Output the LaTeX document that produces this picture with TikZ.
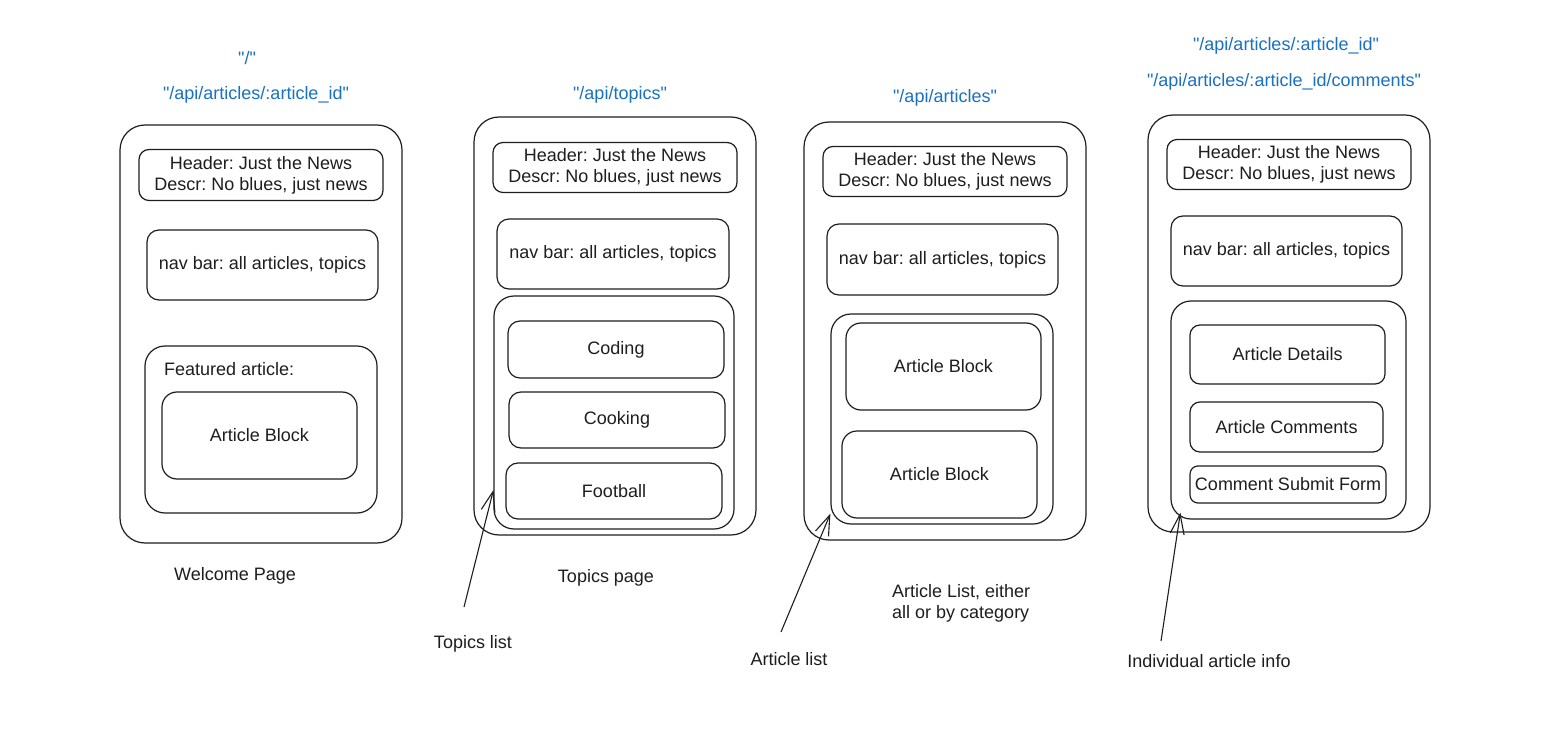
\documentclass[tikz,border=0pt]{standalone}
\usepackage{fontspec}
\setmainfont{Liberation Sans}
\newfontfamily\rtfont{Liberation Sans}
\usetikzlibrary{arrows.meta,calc}
\definecolor{ink}{HTML}{1E1E1E}
\definecolor{route}{HTML}{1971C2}
\frenchspacing
\tikzset{
  box/.style={draw=ink, line width=1.2pt, rounded corners=#1, inner sep=0pt, align=center,
    text=ink, font=\fontsize{18}{21}\selectfont\frenchspacing},
  box/.default=12pt,
  lbl/.style={text=ink, inner sep=0pt, font=\fontsize{18}{21}\selectfont\frenchspacing, align=left},
  rte/.style={text=route, inner sep=0pt, font=\rtfont\fontsize{18}{21}\selectfont},
  arr/.style={draw=ink, line width=1.1pt, -{Straight Barb[length=20pt,width=14pt,line width=1.1pt]}},
}
\begin{document}
\begin{tikzpicture}[x=1pt,y=-1pt]
\useasboundingbox[fill=white] (0,0) rectangle (1552,735);

% ---------- Column 1: Welcome page ----------
\node[rte] (r1a) at (247,58) {"/"};
\node[rte] (r1b) at (256,95) {"/api/articles/:article\_id"};
\node[box=25pt, minimum width=282pt, minimum height=418pt] (o1) at (261,334) {};
\node[box=10pt, minimum width=244pt, minimum height=51pt] (h1) at (261,175) {Header: Just the News\\Descr: No blues, just news};
\node[box=12pt, minimum width=231pt, minimum height=70pt] (n1) at (262.5,265) {\raisebox{-2pt}{nav bar: all articles, topics}};
\node[box=20pt, minimum width=232pt, minimum height=167pt] (f1) at (261,429.5) {};
\node[lbl, anchor=west] (f1t) at (164,369) {Featured article:};
\node[box=15pt, minimum width=195pt, minimum height=87pt] (a1) at (259.5,435.5) {\raisebox{-1pt}{Article Block}};
\node[lbl] (w1) at (235,576) {Welcome Page};

% ---------- Column 2: Topics page ----------
\node[rte] (r2) at (620,95) {"/api/topics"};
\node[box=25pt, minimum width=282pt, minimum height=418pt] (o2) at (615,326) {};
\node[box=10pt, minimum width=244pt, minimum height=50pt] (h2) at (615,167.5) {Header: Just the News\\Descr: No blues, just news};
\node[box=12pt, minimum width=232pt, minimum height=70pt] (n2) at (613,254) {\raisebox{-2pt}{nav bar: all articles, topics}};
\node[box=20pt, minimum width=240pt, minimum height=233pt] (t2) at (614,412.5) {};
\node[box=12pt, minimum width=216pt, minimum height=57pt] (c21) at (616,349.5) {\raisebox{-1pt}{Coding}};
\node[box=12pt, minimum width=216pt, minimum height=56pt] (c22) at (617,420) {\raisebox{-1pt}{Cooking}};
\node[box=12pt, minimum width=216pt, minimum height=56pt] (c23) at (614,491) {\raisebox{-1pt}{Football}};
\node[lbl] (w2) at (606,578) {Topics page};
\node[lbl] (tl) at (473,644) {Topics list};
\coordinate (tail2) at (464,607);
\coordinate (tip2) at ($(t2.west)+(0,77.5)$);
\draw[arr] (tail2) -- (tip2);

% ---------- Column 3: Article list ----------
\node[rte] (r3) at (945,98) {"/api/articles"};
\node[box=25pt, minimum width=282pt, minimum height=418pt] (o3) at (945,331) {};
\node[box=10pt, minimum width=244pt, minimum height=50pt] (h3) at (945,171.5) {Header: Just the News\\Descr: No blues, just news};
\node[box=12pt, minimum width=231pt, minimum height=71pt] (n3) at (942.5,259.5) {\raisebox{-2pt}{nav bar: all articles, topics}};
\node[box=20pt, minimum width=222pt, minimum height=210pt] (l3) at (942,419) {};
\node[box=15pt, minimum width=195pt, minimum height=87pt] (b31) at (943.5,366.5) {\raisebox{-1pt}{Article Block}};
\node[box=15pt, minimum width=195pt, minimum height=87pt] (b32) at (939.5,474.5) {\raisebox{-1pt}{Article Block}};
\node[lbl, anchor=west] (w3) at (892,603) {Article List, either\\all or by category};
\node[lbl] (al) at (789,659) {Article list};
\coordinate (tail3) at (781,632);
\coordinate (tip3) at ($(l3.south west)+(0,-11)$);
\draw[arr] (tail3) -- (tip3);

% ---------- Column 4: Individual article ----------
\node[rte] (r4a) at (1286,46) {"/api/articles/:article\_id"};
\node[rte] (r4b) at (1284,82) {"/api/articles/:article\_id/comments"};
\node[box=25pt, minimum width=282pt, minimum height=417pt] (o4) at (1289,323.5) {};
\node[box=10pt, minimum width=244pt, minimum height=50pt] (h4) at (1289,164.5) {Header: Just the News\\Descr: No blues, just news};
\node[box=12pt, minimum width=231pt, minimum height=70pt] (n4) at (1286.5,251) {\raisebox{-2pt}{nav bar: all articles, topics}};
\node[box=20pt, minimum width=235pt, minimum height=218pt] (d4) at (1288.5,410) {};
\node[box=10pt, minimum width=195pt, minimum height=59pt] (e41) at (1287.5,354.5) {\raisebox{-1pt}{Article Details}};
\node[box=10pt, minimum width=193pt, minimum height=50pt] (e42) at (1286.5,427) {\raisebox{-1pt}{Article Comments}};
\node[box=8pt, minimum width=196pt, minimum height=37pt] (e43) at (1288,484.5) {\raisebox{-1pt}{Comment Submit Form}};
\node[lbl] (ia) at (1209,661) {Individual article info};
\coordinate (tail4) at (1161,641);
\coordinate (tip4) at ($(d4.south west)+(10,-7)$);
\draw[arr] (tail4) -- (tip4);
\end{tikzpicture}
\end{document}
